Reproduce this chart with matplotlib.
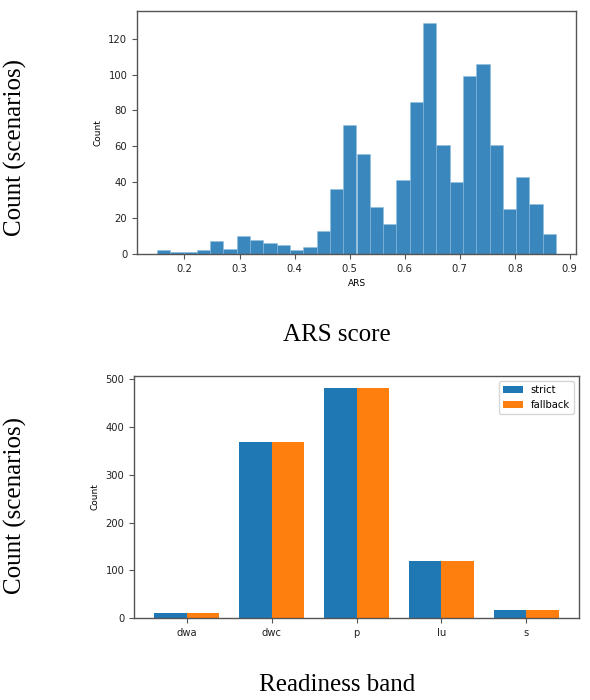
import numpy as np
import matplotlib
matplotlib.use("Agg")
import matplotlib.pyplot as plt

# ARS histogram: 30 bins from 0.15 to 0.875
ars_lo = 0.15
ars_hi = 0.875
ars_counts = [2, 1, 1, 2, 7, 3, 10, 8, 6, 5, 2, 4, 13, 36, 72,
              56, 26, 17, 41, 85, 129, 61, 40, 99, 106, 61, 25, 43, 28, 11]

# readiness bands
bands = ["dwa", "dwc", "p", "lu", "s"]
strict = [10, 369, 483, 120, 17]
fallback = [10, 369, 483, 120, 17]

W, H = 590, 700
fig = plt.figure(figsize=(W / 100, H / 100), dpi=100)

def px_axes(x0, y0, x1, y1):
    return fig.add_axes([x0 / W, 1 - y1 / H, (x1 - x0) / W, (y1 - y0) / H])

def style(ax):
    for s in ax.spines.values():
        s.set_color("#555555")
        s.set_linewidth(1.0)
    ax.tick_params(labelsize=7.2, colors="#222222", length=3.5, width=0.8)
    ax.tick_params(color="#555555")

# top: histogram
ax1 = px_axes(137, 11, 576, 254)
edges = np.linspace(ars_lo, ars_hi, len(ars_counts) + 1)
centers = (edges[:-1] + edges[1:]) / 2
ax1.hist(centers, bins=edges, weights=ars_counts, color="#1f77b4", alpha=0.88,
         edgecolor="#8fbde0", linewidth=0.4)
ax1.set_xlabel("ARS", fontsize=6.5)
ax1.set_ylabel("Count", fontsize=6.5)
style(ax1)

# bottom: grouped bars
ax2 = px_axes(134, 376, 579, 618)
x = np.arange(len(bands))
w = 0.38
ax2.bar(x - w / 2, strict, w, color="#1f77b4", label="strict")
ax2.bar(x + w / 2, fallback, w, color="#ff7f0e", label="fallback")
ax2.set_xticks(x)
ax2.set_xticklabels(bands)
ax2.set_ylabel("Count", fontsize=6.5)
ax2.legend(fontsize=7.2, loc="upper right")
style(ax2)

serif = ["Liberation Serif", "DejaVu Serif"]
fig.text(15 / W, 1 - 148 / H, "Count (scenarios)", rotation=90, ha="center",
         va="center", fontsize=18, family=serif)
fig.text(15 / W, 1 - 505 / H, "Count (scenarios)", rotation=90, ha="center",
         va="center", fontsize=18, family=serif)
fig.text(337 / W, 1 - 335 / H, "ARS score", ha="center", va="center",
         fontsize=18, family=serif)
fig.text(337 / W, 1 - 685 / H, "Readiness band", ha="center", va="center",
         fontsize=18, family=serif)

fig.savefig("out.png", dpi=100)
plt.close(fig)
